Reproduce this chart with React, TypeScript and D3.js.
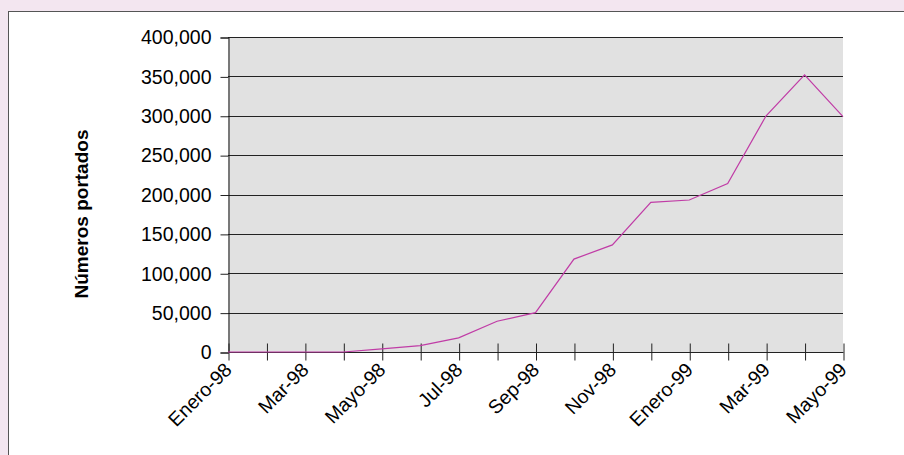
import * as d3 from 'd3';
import { useEffect, useRef } from 'react';

const months = [
  'Enero-98', 'Feb-98', 'Mar-98', 'Abr-98', 'Mayo-98', 'Jun-98', 'Jul-98', 'Ago-98', 'Sep-98',
  'Oct-98', 'Nov-98', 'Dic-98', 'Enero-99', 'Feb-99', 'Mar-99', 'Abr-99', 'Mayo-99',
];
const portados = [
  0, 0, 0, 0, 4000, 8000, 18000, 39000, 50000,
  118000, 136000, 190000, 193000, 214000, 300000, 352000, 299000,
];
const shownLabels = ['Enero-98', 'Mar-98', 'Mayo-98', 'Jul-98', 'Sep-98', 'Nov-98', 'Enero-99', 'Mar-99', 'Mayo-99'];
const yTicks = [0, 50000, 100000, 150000, 200000, 250000, 300000, 350000, 400000];
const yTitle = 'Números portados';

export default function App() {
  const ref = useRef<SVGSVGElement | null>(null);

  useEffect(() => {
    if (!ref.current) return;
    const svg = d3.select(ref.current);
    svg.selectAll('*').remove();

    const width = 904;
    const height = 455;
    const margin = { top: 37, right: 61, bottom: 103, left: 228 };
    const font = '"Liberation Sans", Arial, sans-serif';

    // page background + white panel
    svg.append('rect').attr('width', width).attr('height', height).attr('fill', '#f3e6f0');
    svg
      .append('rect')
      .attr('x', 8.5)
      .attr('y', 11.5)
      .attr('width', width)
      .attr('height', height)
      .attr('fill', '#ffffff')
      .attr('stroke', '#555555')
      .attr('stroke-width', 1);

    const x = d3
      .scalePoint<string>()
      .domain(months)
      .range([margin.left, width - margin.right]);
    const y = d3
      .scaleLinear()
      .domain([0, 400000])
      .range([height - margin.bottom, margin.top]);

    const [x0, x1] = x.range();
    const [yb, yt] = y.range();

    // plot area
    svg
      .append('rect')
      .attr('x', x0)
      .attr('y', yt)
      .attr('width', x1 - x0)
      .attr('height', yb - yt)
      .attr('fill', '#e1e1e1');

    // gridlines
    svg
      .append('g')
      .selectAll('line')
      .data(yTicks.filter((d) => d > 0))
      .enter()
      .append('line')
      .attr('x1', x0)
      .attr('x2', x1)
      .attr('y1', (d) => Math.round(y(d)) + 0.5)
      .attr('y2', (d) => Math.round(y(d)) + 0.5)
      .attr('stroke', '#222')
      .attr('stroke-width', 1);

    // y axis
    const yAxis = svg
      .append('g')
      .attr('transform', `translate(${x0 + 0.5}, 0.5)`)
      .call(
        d3
          .axisLeft(y)
          .tickValues(yTicks)
          .tickSize(8)
          .tickPadding(9)
          .tickFormat((d) => d3.format(',')(d as number))
      );
    yAxis.select('.domain').attr('stroke', '#111');
    yAxis.selectAll('.tick line').attr('stroke', '#222');
    yAxis
      .selectAll('text')
      .attr('font-family', font)
      .attr('font-size', 19.5)
      .attr('fill', '#000');

    // x axis
    const xAxis = svg
      .append('g')
      .attr('transform', `translate(0.5, ${yb + 0.5})`)
      .call(d3.axisBottom(x).tickSize(8).tickFormat(() => ''));
    xAxis.select('.domain').attr('stroke', '#222').attr('d', `M${x0},0H${x1}`);
    xAxis.selectAll('.tick line').attr('y1', -9).attr('stroke', '#222');

    svg
      .append('g')
      .selectAll('text')
      .data(shownLabels)
      .enter()
      .append('text')
      .attr('transform', (d) => `translate(${(x(d) || 0) + 5}, ${yb + 19}) rotate(-45)`)
      .attr('text-anchor', 'end')
      .attr('font-family', font)
      .attr('font-size', 19.5)
      .attr('fill', '#000')
      .text((d) => d);

    // line
    const line = d3
      .line<number>()
      .x((_, i) => x(months[i]) || 0)
      .y((d) => y(d));
    svg
      .append('path')
      .datum(portados)
      .attr('d', line)
      .attr('fill', 'none')
      .attr('stroke', '#c03ca6')
      .attr('stroke-width', 1.2);

    // y title
    svg
      .append('text')
      .attr('transform', `translate(88, 214) rotate(-90)`)
      .attr('text-anchor', 'middle')
      .attr('font-family', font)
      .attr('font-size', 19)
      .attr('font-weight', 'bold')
      .attr('fill', '#000')
      .text(yTitle);
  }, []);

  return (
    <svg
      ref={ref}
      width={904}
      height={455}
      style={{ position: 'absolute', left: 0, top: 0, display: 'block' }}
      role="img"
      aria-label="Números portados"
    />
  );
}
